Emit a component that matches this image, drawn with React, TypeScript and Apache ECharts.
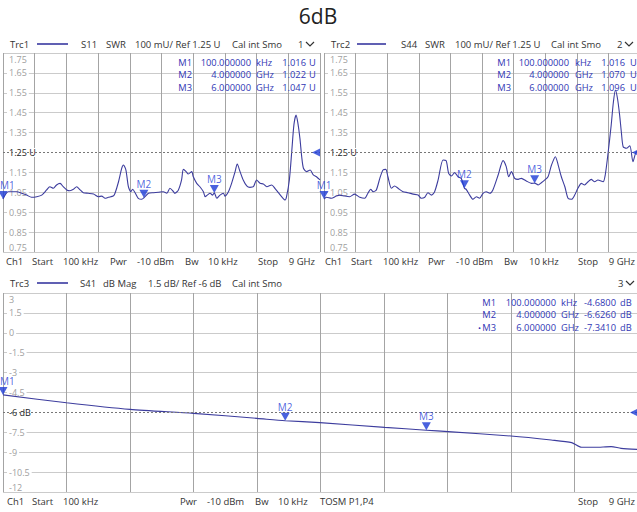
import React, { useEffect, useRef } from 'react';
import * as echarts from 'echarts';

// ---------------- data ----------------
const chartTitle = '6dB';

// Trc1: S11 SWR (frequency in GHz)
const s11Freq = [0.0001, 0.15, 0.39, 0.53, 0.67, 0.81, 0.96, 1.10, 1.24, 1.33, 1.43, 1.52, 1.62, 1.71, 1.81, 1.90, 2.00, 2.09, 2.19, 2.28, 2.42, 2.57, 2.71, 2.80, 2.90, 2.99, 3.13, 3.18, 3.28, 3.37, 3.42, 3.49, 3.56, 3.63, 3.68, 3.75, 3.84, 3.94, 4.00, 4.13, 4.27, 4.41, 4.55, 4.65, 4.74, 4.84, 4.88, 4.98, 5.07, 5.12, 5.20, 5.26, 5.36, 5.40, 5.50, 5.59, 5.69, 5.74, 5.80, 5.88, 5.95, 6.00, 6.07, 6.16, 6.26, 6.30, 6.40, 6.49, 6.59, 6.65, 6.73, 6.82, 6.92, 7.01, 7.11, 7.20, 7.30, 7.39, 7.49, 7.63, 7.72, 7.82, 7.91, 8.01, 8.05, 8.13, 8.20, 8.26, 8.32, 8.37, 8.43, 8.48, 8.53, 8.62, 8.72, 8.81, 8.90, 9.00];
const s11Swr = [1.016, 1.053, 1.053, 1.045, 1.036, 1.025, 1.028, 1.036, 1.062, 1.078, 1.070, 1.087, 1.095, 1.078, 1.062, 1.058, 1.065, 1.078, 1.062, 1.048, 1.045, 1.041, 1.028, 1.031, 1.020, 1.025, 1.031, 1.045, 1.103, 1.170, 1.187, 1.162, 1.078, 1.053, 1.065, 1.048, 1.020, 1.015, 1.022, 1.045, 1.048, 1.050, 1.053, 1.045, 1.070, 1.053, 1.045, 1.062, 1.112, 1.165, 1.154, 1.142, 1.154, 1.129, 1.095, 1.078, 1.053, 1.028, 1.036, 1.045, 1.036, 1.047, 1.020, 1.036, 1.045, 1.031, 1.053, 1.095, 1.154, 1.192, 1.154, 1.112, 1.082, 1.075, 1.078, 1.112, 1.095, 1.092, 1.078, 1.087, 1.070, 1.048, 1.028, 1.011, 1.028, 1.112, 1.260, 1.390, 1.438, 1.400, 1.321, 1.230, 1.171, 1.154, 1.162, 1.137, 1.128, 1.112];

// Trc2: S44 SWR
const s44Freq = [0.0001, 0.07, 0.21, 0.35, 0.45, 0.59, 0.73, 0.87, 1.02, 1.16, 1.25, 1.33, 1.40, 1.49, 1.59, 1.68, 1.76, 1.82, 1.92, 2.01, 2.11, 2.25, 2.39, 2.54, 2.68, 2.77, 2.87, 2.96, 3.06, 3.15, 3.25, 3.39, 3.48, 3.55, 3.63, 3.72, 3.82, 3.91, 4.00, 4.05, 4.15, 4.24, 4.34, 4.43, 4.53, 4.62, 4.72, 4.81, 4.96, 5.10, 5.19, 5.26, 5.34, 5.43, 5.53, 5.62, 5.76, 5.91, 6.00, 6.10, 6.19, 6.29, 6.38, 6.48, 6.59, 6.67, 6.76, 6.86, 6.95, 7.05, 7.14, 7.23, 7.33, 7.42, 7.52, 7.61, 7.71, 7.80, 7.95, 8.01, 8.09, 8.18, 8.24, 8.30, 8.36, 8.42, 8.47, 8.52, 8.61, 8.71, 8.80, 8.90, 9.00];
const s44Swr = [1.016, 1.025, 1.020, 1.031, 1.036, 1.031, 1.028, 1.041, 1.025, 1.020, 1.045, 1.065, 1.053, 1.062, 1.120, 1.162, 1.165, 1.128, 1.070, 1.082, 1.070, 1.053, 1.048, 1.041, 1.036, 1.020, 1.025, 1.048, 1.036, 1.053, 1.112, 1.212, 1.209, 1.145, 1.132, 1.149, 1.128, 1.120, 1.070, 1.065, 1.036, 1.015, 1.028, 1.020, 1.045, 1.053, 1.045, 1.062, 1.137, 1.209, 1.179, 1.128, 1.154, 1.120, 1.115, 1.120, 1.107, 1.095, 1.096, 1.087, 1.098, 1.112, 1.128, 1.187, 1.229, 1.187, 1.128, 1.078, 1.020, 1.015, 1.036, 1.070, 1.095, 1.087, 1.103, 1.115, 1.103, 1.112, 1.103, 1.137, 1.246, 1.388, 1.500, 1.564, 1.520, 1.438, 1.350, 1.279, 1.271, 1.284, 1.204, 1.254, 1.240];

// Trc3: S41 dB Mag
const s41Freq = [0.0001, 0.90, 1.80, 2.70, 3.60, 4.00, 4.49, 5.41, 6.00, 6.31, 7.20, 7.77, 8.06, 8.20, 8.39, 8.62, 8.76, 9.00];
const s41Mag = [-4.68, -5.27, -5.77, -6.07, -6.45, -6.626, -6.77, -7.13, -7.341, -7.45, -7.78, -8.08, -8.28, -8.63, -8.63, -8.58, -8.71, -8.79];

// markers
const markerNames = ['M1', 'M2', 'M3'];
const markerFreq = [0.0001, 4, 6];
const markerFreqText = ['100.000000', '4.000000', '6.000000'];
const markerFreqUnit = ['kHz', 'GHz', 'GHz'];
const s11Markers = [1.016, 1.022, 1.047];
const s44Markers = [1.016, 1.070, 1.096];
const s41Markers = [-4.68, -6.626, -7.341];

// tick labels
const swrTickLabels = ['0.75', '0.85', '0.95', '1.05', '1.15', '1.25 U', '1.35', '1.45', '1.55', '1.65', '1.75'];
const swrBottom = 0.75;
const swrPerDiv = 0.1;
const swrRefIndex = 5;
const magTickLabels = ['-12', '-10.5', '-9', '-7.5', '-6 dB', '-4.5', '-3', '-1.5', '0', '1.5', '3'];
const magBottom = -12;
const magPerDiv = 1.5;
const magRefIndex = 4;
const freqStart = 0;
const freqStop = 9;

// ---------------- styling ----------------
const FONT = '"Open Sans", "Noto Sans", sans-serif';
const TRACE = '#3d3d9e';
const MARK = '#1d3bd6';
const TABLE = '#2f36b4';
const TEXT = '#333';
const VGRID = '#a4a4a4';
const HGRID = '#cbcbcb';

const T = (x: number, y: number, text: string, o: any = {}) => ({
  type: 'text',
  x,
  y,
  silent: true,
  z: 10,
  style: {
    text,
    fill: o.fill ?? TEXT,
    font: `${o.weight ?? 'normal'} ${o.size ?? 9.5}px ${FONT}`,
    align: o.align ?? 'left',
    verticalAlign: 'middle',
  },
});

const chevron = (x: number, y: number) => ({
  type: 'polyline',
  silent: true,
  z: 10,
  shape: { points: [[x, y - 2], [x + 4, y + 2], [x + 8, y - 2]] },
  style: { stroke: TEXT, lineWidth: 1.2, fill: 'none' },
});

const sample = (x1: number, x2: number, y: number) => ({
  type: 'line',
  silent: true,
  z: 10,
  shape: { x1, y1: y, x2, y2: y },
  style: { stroke: '#2b2b9a', lineWidth: 1.5 },
});

function hColors(n: number, refIdx: number) {
  const arr: string[] = [];
  for (let i = 0; i < n; i++) arr.push(i === refIdx ? 'rgba(0,0,0,0)' : HGRID);
  return arr;
}

function yAxisFor(gridIndex: number, labels: string[], bottom: number, perDiv: number, refIdx: number, divUnits: boolean) {
  const min = divUnits ? 0 : bottom;
  const interval = divUnits ? 1 : perDiv;
  const max = min + interval * (labels.length - 1);
  return {
    gridIndex,
    type: 'value',
    min,
    max,
    interval,
    axisLine: { show: false },
    axisTick: { show: false },
    axisLabel: {
      inside: true,
      margin: 4,
      color: '#a0a0a0',
      fontSize: 9,
      fontFamily: FONT,
      formatter: (val: number) => {
        const i = Math.round((val - min) / interval);
        const t = labels[i];
        if (i === labels.length - 1) return `{top|${t}}`;
        if (i === 0) return `{bot|${t}}`;
        if (i === refIdx) return `{ref|${t}}`;
        return `{n|${t}}`;
      },
      rich: {
        n: { backgroundColor: '#fff', padding: [0, 2, 0, 2], color: '#a0a0a0', fontSize: 9, fontFamily: FONT },
        ref: { backgroundColor: '#fff', padding: [0, 2, 0, 2], color: '#222', fontSize: 9, fontFamily: FONT },
        top: { padding: [13, 2, 0, 2], color: '#a0a0a0', fontSize: 9, fontFamily: FONT },
        bot: { padding: [0, 2, 10, 2], color: '#a0a0a0', fontSize: 9, fontFamily: FONT },
      },
    },
    splitLine: { show: true, lineStyle: { color: hColors(labels.length, refIdx), width: 1.2 } },
  };
}

function xAxisFor(gridIndex: number) {
  return {
    gridIndex,
    type: 'value',
    min: freqStart,
    max: freqStop,
    interval: (freqStop - freqStart) / 10,
    axisLine: { show: false },
    axisTick: { show: false },
    axisLabel: { show: false },
    splitLine: { show: true, lineStyle: { color: VGRID, width: 1 } },
  };
}

function traceSeries(idx: number, freq: number[], vals: number[], toY: (v: number) => number, refY: number) {
  return {
    type: 'line',
    xAxisIndex: idx,
    yAxisIndex: idx,
    data: freq.map((f, i) => [f, toY(vals[i])]),
    symbol: 'none',
    smooth: 0.25,
    lineStyle: { color: TRACE, width: 1.1 },
    z: 3,
    markLine: {
      silent: true,
      symbol: 'none',
      label: { show: false },
      lineStyle: { color: '#777', type: [2, 2], width: 1 },
      data: [{ yAxis: refY }],
    },
  };
}

function markerSeries(idx: number, vals: number[], toY: (v: number) => number, refY: number, firstAtEdge: boolean) {
  return [
    {
      type: 'scatter',
      xAxisIndex: idx,
      yAxisIndex: idx,
      data: markerFreq.map((f, i) => {
        const item: any = { value: [f, toY(vals[i])], name: markerNames[i] };
        if (i === 0 && firstAtEdge) item.label = { align: 'left', offset: [-3, 0] };
        return item;
      }),
      symbol: 'triangle',
      symbolRotate: 180,
      symbolSize: [9, 8],
      symbolOffset: [0, -4],
      itemStyle: { color: MARK },
      z: 5,
      label: {
        show: true,
        position: 'top',
        distance: 1,
        formatter: '{b}',
        color: MARK,
        fontSize: 10,
        fontFamily: FONT,
      },
    },
    {
      type: 'scatter',
      xAxisIndex: idx,
      yAxisIndex: idx,
      data: [[freqStop, refY]],
      symbol: 'triangle',
      symbolRotate: 90,
      symbolSize: [8, 8],
      symbolOffset: [-4, 0],
      itemStyle: { color: MARK },
      z: 5,
    },
  ];
}

function markerTable(nameRight: number, freqRight: number, unitX: number, valRight: number, suffixX: number, rows: number[], vals: number[], digits: number, suffix: string, activeDot: number) {
  const out: any[] = [];
  const S = 9.3;
  rows.forEach((y, i) => {
    out.push(T(nameRight, y, markerNames[i], { fill: TABLE, size: S, align: 'right' }));
    if (i === activeDot) out.push(T(nameRight - 15, y, '•', { fill: TABLE, size: 8, align: 'right' }));
    out.push(T(freqRight, y, markerFreqText[i], { fill: TABLE, size: S, align: 'right' }));
    out.push(T(unitX, y, markerFreqUnit[i], { fill: TABLE, size: S }));
    out.push(T(valRight, y, vals[i].toFixed(digits), { fill: TABLE, size: S, align: 'right' }));
    out.push(T(suffixX, y, suffix, { fill: TABLE, size: S }));
  });
  return out;
}

function buildOption() {
  const swrY = (v: number) => (v - swrBottom) / swrPerDiv;
  const magY = (v: number) => v;
  const swrRef = swrRefIndex;
  const magRef = magBottom + magRefIndex * magPerDiv;

  const graphic: any[] = [
    T(318, 16, chartTitle, { size: 21, fill: '#222', align: 'center' }),
    // panel 1 header
    T(10, 44, 'Trc1'), sample(37, 68, 44), T(81, 44, 'S11'), T(106, 44, 'SWR'),
    T(135, 44, '100 mU/ Ref 1.25 U'), T(232, 44, 'Cal int Smo'), T(298, 44, '1'), chevron(306, 44),
    // panel 2 header
    T(331, 44, 'Trc2'), sample(357, 386, 44), T(401, 44, 'S44'), T(425, 44, 'SWR'),
    T(455, 44, '100 mU/ Ref 1.25 U'), T(551, 44, 'Cal int Smo'), T(617, 44, '2'), chevron(625, 44),
    // panel 3 header
    T(10, 283, 'Trc3'), sample(37, 68, 283), T(80, 283, 'S41'), T(103, 283, 'dB Mag'),
    T(148, 283, '1.5 dB/ Ref -6 dB'), T(232, 283, 'Cal int Smo'), T(618, 283, '3'), chevron(626, 283),
    // footers
    T(6, 261, 'Ch1'), T(32, 261, 'Start'), T(63, 261, '100 kHz'), T(110, 261, 'Pwr'), T(137, 261, '-10 dBm'),
    T(185, 261, 'Bw'), T(208, 261, '10 kHz'), T(258, 261, 'Stop'), T(315, 261, '9 GHz', { align: 'right' }),
    T(325, 261, 'Ch1'), T(351, 261, 'Start'), T(383, 261, '100 kHz'), T(428, 261, 'Pwr'), T(456, 261, '-10 dBm'),
    T(504, 261, 'Bw'), T(529, 261, '10 kHz'), T(578, 261, 'Stop'), T(635, 261, '9 GHz', { align: 'right' }),
    T(7, 501, 'Ch1'), T(32, 501, 'Start'), T(63, 501, '100 kHz'), T(180, 501, 'Pwr'), T(207, 501, '-10 dBm'),
    T(255, 501, 'Bw'), T(278, 501, '10 kHz'), T(320, 501, 'TOSM P1,P4'), T(578, 501, 'Stop'),
    T(635, 501, '9 GHz', { align: 'right' }),
    ...markerTable(192, 251, 256, 306, 309, [62, 74.5, 87], s11Markers, 3, 'U', -1),
    ...markerTable(511, 569, 575, 625, 630, [62, 74.5, 87], s44Markers, 3, 'U', -1),
    ...markerTable(496, 556, 561, 616, 620, [302, 314.5, 327], s41Markers, 4, 'dB', 2),
  ];

  return {
    animation: false,
    backgroundColor: '#fff',
    textStyle: { fontFamily: FONT },
    grid: [
      { left: 3, top: 53, width: 317, height: 199, outerBoundsMode: 'none', containLabel: false },
      { left: 324, top: 53, width: 316, height: 199, outerBoundsMode: 'none', containLabel: false },
      { left: 3, top: 293, width: 635, height: 199, outerBoundsMode: 'none', containLabel: false },
    ],
    xAxis: [xAxisFor(0), xAxisFor(1), xAxisFor(2)],
    yAxis: [
      yAxisFor(0, swrTickLabels, swrBottom, swrPerDiv, swrRefIndex, true),
      yAxisFor(1, swrTickLabels, swrBottom, swrPerDiv, swrRefIndex, true),
      yAxisFor(2, magTickLabels, magBottom, magPerDiv, magRefIndex, false),
    ],
    series: [
      traceSeries(0, s11Freq, s11Swr, swrY, swrRef),
      ...markerSeries(0, s11Markers, swrY, swrRef, true),
      traceSeries(1, s44Freq, s44Swr, swrY, swrRef),
      ...markerSeries(1, s44Markers, swrY, swrRef, false),
      traceSeries(2, s41Freq, s41Mag, magY, magRef),
      ...markerSeries(2, s41Markers, magY, magRef, true),
    ],
    graphic,
  };
}

export default function App() {
  const ref = useRef<HTMLDivElement>(null);
  useEffect(() => {
    if (!ref.current) return;
    const chart = echarts.init(ref.current, null, { renderer: 'svg' });
    chart.setOption(buildOption() as any);
    return () => chart.dispose();
  }, []);
  return (
    <div
      ref={ref}
      style={{ position: 'fixed', left: 0, top: 0, width: 637, height: 512, background: '#fff' }}
    />
  );
}
